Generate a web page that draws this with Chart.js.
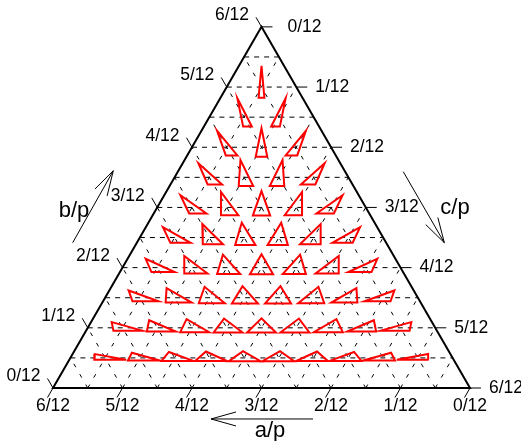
<!DOCTYPE html>
<html><head><meta charset="utf-8">
<script src="https://cdn.jsdelivr.net/npm/chart.js@4.4.1/dist/chart.umd.min.js"></script>
<style>html,body{margin:0;padding:0;background:#fff}canvas{display:block}</style>
</head><body>
<canvas id="c" width="521" height="441"></canvas>
<script>
// Side lengths of each drawn triangle, in 24ths of the perimeter p.
// Rows go from c/p = 2/24 (top) to 11/24 (bottom); within a row, left to right.
const sideA = [11, 11,10, 11,10,9, 11,10,9,8, 11,10,9,8,7, 11,10,9,8,7,6,
  11,10,9,8,7,6,5, 11,10,9,8,7,6,5,4, 11,10,9,8,7,6,5,4,3, 11,10,9,8,7,6,5,4,3,2];
const sideB = [11, 10,11, 9,10,11, 8,9,10,11, 7,8,9,10,11, 6,7,8,9,10,11,
  5,6,7,8,9,10,11, 4,5,6,7,8,9,10,11, 3,4,5,6,7,8,9,10,11, 2,3,4,5,6,7,8,9,10,11];
const sideC = [2, 3,3, 4,4,4, 5,5,5,5, 6,6,6,6,6, 7,7,7,7,7,7,
  8,8,8,8,8,8,8, 9,9,9,9,9,9,9,9, 10,10,10,10,10,10,10,10,10, 11,11,11,11,11,11,11,11,11,11];
const UNIT = 24;                       // sides are given in 24ths
const tickValues = [0, 1, 2, 3, 4, 5, 6];   // twelfths
const tickLabels = ['0/12', '1/12', '2/12', '3/12', '4/12', '5/12', '6/12'];
const latticeLines = [1, 2, 3, 4, 5, 6, 7, 8, 9, 10, 11]; // 24ths
const axisTitles = ['a/p', 'b/p', 'c/p'];

// ---- geometry helpers (ternary -> cartesian data space) ----
const S3 = Math.sqrt(3);
function tern(a, b, c) { return { x: b - a, y: (0.5 - c) * S3 }; }
const SHAPE_SCALE = 1 / 6;
const PX = 417;                 // pixels per data unit (both axes)
const TICK = 11 / PX;           // tick length
const dirLeft = { x: -0.5, y: S3 / 2 };    // outward tick for b (parallel to right side)
const dirBottom = { x: -0.5, y: -S3 / 2 }; // outward tick for a (parallel to left side)
const dirRight = { x: 1, y: 0 };           // outward tick for c

const datasets = [];
function addLine(points, color, width, dash, order) {
  datasets.push({ data: points, showLine: true, borderColor: color, backgroundColor: color,
    borderWidth: width, borderDash: dash || [], pointRadius: 0, pointHoverRadius: 0,
    fill: false, tension: 0, order: order, borderJoinStyle: 'miter', borderCapStyle: 'butt' });
}

// small triangles
for (let i = 0; i < sideA.length; i++) {
  const a = sideA[i] / UNIT, b = sideB[i] / UNIT, c = sideC[i] / UNIT;
  const cx = (b * b + c * c - a * a) / (2 * c);
  const h = Math.sqrt(Math.max(b * b - cx * cx, 0));
  const verts = [[0, 0], [c, 0], [cx, h]];
  const gx = (c + cx) / 3, gy = h / 3;
  const P = tern(a, b, c);
  const pts = verts.map(v => ({ x: P.x + (v[0] - gx) * SHAPE_SCALE, y: P.y + (v[1] - gy) * SHAPE_SCALE }));
  pts.push({ ...pts[0] }, { ...pts[1] });
  addLine(pts, '#ff0000', 2, [], 1);
}

// lattice (dashed)
latticeLines.forEach(k => {
  const v = k / UNIT;
  // constant c (horizontal)
  addLine([tern(0.5, 0.5 - v, v), tern(0.5 - v, 0.5, v)], '#000', 1, [5, 5], 5);
  // constant a
  addLine([tern(v, 0.5 - v, 0.5), tern(v, 0.5, 0.5 - v)], '#000', 1, [4, 8], 5);
  // constant b
  addLine([tern(0.5 - v, v, 0.5), tern(0.5, v, 0.5 - v)], '#000', 1, [4, 8], 5);
});

// outer triangle
const T = tern(0.5, 0.5, 0), BL = tern(0.5, 0, 0.5), BR = tern(0, 0.5, 0.5);
addLine([BL, BR, T, BL, BR], '#000', 2, [], 3);

// ticks
const tickPos = { a: [], b: [], c: [] };
tickValues.forEach(t => {
  const v = t / 12;
  const pa = tern(v, 0.5 - v, 0.5);
  const ea = { x: pa.x + dirBottom.x * TICK, y: pa.y + dirBottom.y * TICK };
  addLine([pa, ea], '#000', 1, [], 4); tickPos.a.push([pa, ea]);
  const pb = tern(0.5, v, 0.5 - v);
  const eb = { x: pb.x + dirLeft.x * TICK, y: pb.y + dirLeft.y * TICK };
  addLine([pb, eb], '#000', 1, [], 4); tickPos.b.push([pb, eb]);
  const pc = tern(0.5 - v, 0.5, v);
  const ec = { x: pc.x + dirRight.x * TICK, y: pc.y + dirRight.y * TICK };
  addLine([pc, ec], '#000', 1, [], 4); tickPos.c.push([pc, ec]);
});

// direction arrows (data space)
const arrows = [
  { from: { x: 0.1235, y: -0.0743 }, to: { x: -0.1211, y: -0.0743 } },
  { from: { x: -0.4528, y: 0.3484 }, to: { x: -0.3554, y: 0.5211 } },
  { from: { x: 0.3400, y: 0.5187 }, to: { x: 0.4384, y: 0.3484 } }
];
arrows.forEach(ar => {
  addLine([ar.from, ar.to], '#000', 1, [], 4);
  const dx = ar.to.x - ar.from.x, dy = ar.to.y - ar.from.y, L = Math.hypot(dx, dy);
  const ux = dx / L, uy = dy / L, hl = 25 / PX, hw = 7 / PX;
  const w1 = { x: ar.to.x - ux * hl - uy * hw, y: ar.to.y - uy * hl + ux * hw };
  const w2 = { x: ar.to.x - ux * hl + uy * hw, y: ar.to.y - uy * hl - ux * hw };
  addLine([w1, ar.to, w2], '#000', 1, [], 4);
});

const titlePos = [{ x: 270, y: 431 }, { x: 74, y: 211 }, { x: 455, y: 208 }]; // pixel anchors

const labelPlugin = {
  id: 'ternLabels',
  afterDatasetsDraw(chart) {
    const ctx = chart.ctx, sx = chart.scales.x, sy = chart.scales.y;
    const px = p => ({ x: sx.getPixelForValue(p.x), y: sy.getPixelForValue(p.y) });
    ctx.save();
    ctx.fillStyle = '#000';
    ctx.font = '17.5px "Liberation Sans", Arial, sans-serif';
    ctx.textBaseline = 'middle';
    tickLabels.forEach((lab, i) => {
      // a (bottom)
      let [p, e] = tickPos.a[i].map(px);
      ctx.textAlign = 'center';
      ctx.fillText(lab, p.x, p.y + 18);
      // b (left)
      [p, e] = tickPos.b[i].map(px);
      ctx.textAlign = 'right';
      ctx.fillText(lab, e.x - 7, e.y - 2);
      // c (right)
      [p, e] = tickPos.c[i].map(px);
      ctx.textAlign = 'left';
      ctx.fillText(lab, e.x + (i === 0 ? 15 : 8), e.y);
    });
    ctx.font = '22px "Liberation Sans", Arial, sans-serif';
    ctx.textAlign = 'center';
    axisTitles.forEach((t, i) => ctx.fillText(t, titlePos[i].x, titlePos[i].y));
    ctx.restore();
  }
};

new Chart(document.getElementById('c'), {
  type: 'scatter',
  data: { datasets },
  options: {
    responsive: false, animation: false, devicePixelRatio: 1,
    layout: { padding: 0 },
    plugins: { legend: { display: false }, tooltip: { enabled: false } },
    events: [],
    scales: {
      x: { type: 'linear', display: false, min: -261.5 / PX, max: (521 - 261.5) / PX },
      y: { type: 'linear', display: false, min: -53 / PX, max: 388 / PX }
    }
  },
  plugins: [labelPlugin]
});
</script>
</body></html>
